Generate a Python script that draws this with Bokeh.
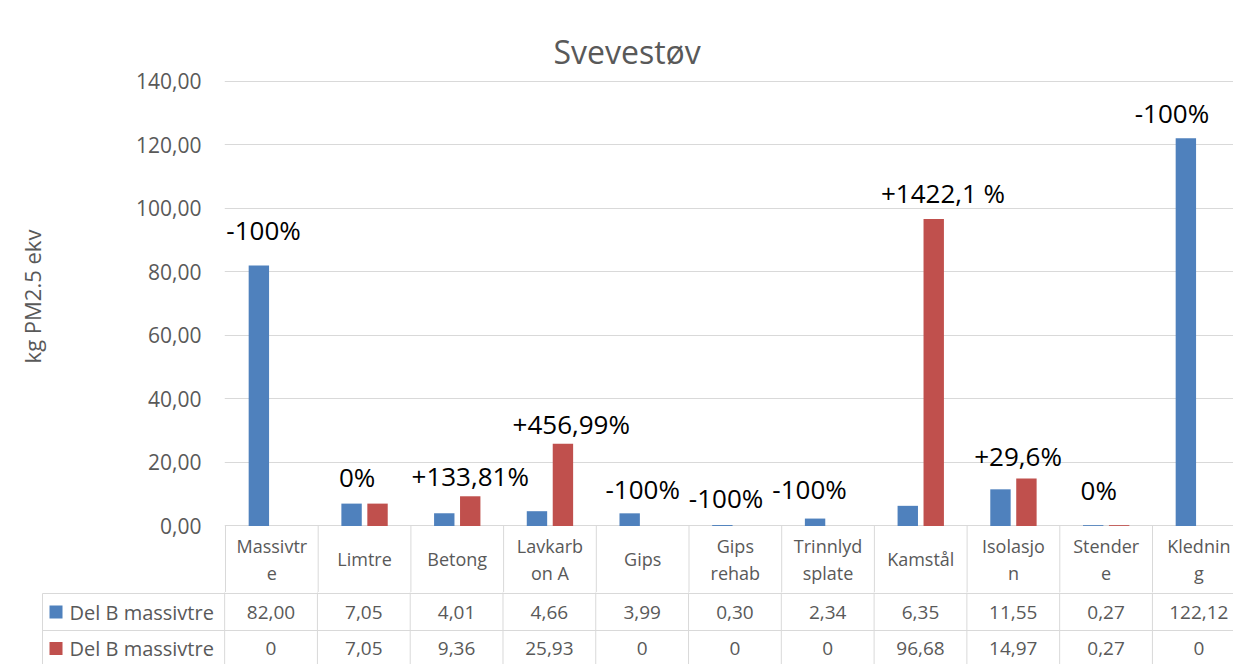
import numpy as np
from bokeh.plotting import figure
from bokeh.models import ColumnDataSource, Range1d, FixedTicker, CustomJSTickFormatter
from bokeh.transform import dodge
from bokeh.core.properties import value
from bokeh.embed import file_html
from bokeh.resources import INLINE

# ---------------- data ----------------
title = "Svevestøv"
y_label = "kg PM2.5 ekv"
categories = ["Massivtre", "Limtre", "Betong", "Lavkarbon A", "Gips", "Gips rehab",
              "Trinnlydsplate", "Kamstål", "Isolasjon", "Stendere", "Kledning"]
category_labels = ["Massivtr\ne", "Limtre", "Betong", "Lavkarb\non A", "Gips", "Gips\nrehab",
                   "Trinnlyd\nsplate", "Kamstål", "Isolasjo\nn", "Stender\ne", "Klednin\ng"]
series_names = ["Del B massivtre", "Del B massivtre"]
series_a = [82.00, 7.05, 4.01, 4.66, 3.99, 0.30, 2.34, 6.35, 11.55, 0.27, 122.12]
series_b = [0, 7.05, 9.36, 25.93, 0, 0, 0, 96.68, 14.97, 0.27, 0]
change_labels = ["-100%", "0%", "+133,81%", "+456,99%", "-100%", "-100%", "-100%",
                 "+1422,1 %", "+29,6%", "0%", "-100%"]
y_ticks = [0, 20, 40, 60, 80, 100, 120, 140]
y_tick_labels = ["0,00", "20,00", "40,00", "60,00", "80,00", "100,00", "120,00", "140,00"]

# -------- placement of the hand-placed change labels (layout) --------
label_y = [93.1, 15.3, 15.6, 32.0, 11.5, 8.7, 11.8, 105.0, 22.2, 11.2, 130.2]
label_dx = [-0.09, -0.08, 0.14, 0.23, 0.0, -0.1, -0.2, 0.24, 0.05, -0.08, -0.29]

# ---------------- style / layout ----------------
BLUE = "#4F81BD"
RED = "#C0504D"
colors = [BLUE, RED]
GRID = "#D9D9D9"
TXT = "#595959"
FONT = "Open Sans"

n = len(categories)
PXU = 92.7                        # pixels per category
PXV = 3.175                       # pixels per value unit
X_START = -1 / PXU                # chart frame starts 1px left of first category
X_END = X_START + 1009 / PXU      # chart frame ends at the window edge
X_LEFT = -183 / PXU               # table frame starts at the legend column
LEG_X = -182 / PXU
HEAD_PX = 66.5                    # height of category header row
Y_MIN = -HEAD_PX / PXV
Y_MAX = 140.3
HEAD_Y = -33.5 / PXV
LABEL_PAD = "\u00a0" * 14         # lifts the axis title to the middle of the value axis

def fmt(v):
    return "0" if v == 0 else f"{v:.2f}".replace(".", ",")

xc = np.arange(n) + 0.5
src = ColumnDataSource(dict(x=xc, a=series_a, b=series_b,
                            xl=xc + np.array(label_dx), yl=label_y, lab=change_labels))

# ---------------- chart (with category header row of the table) ----------------
p1 = figure(width=1224, height=581, x_range=Range1d(X_START, X_END), y_range=Range1d(Y_MIN, Y_MAX),
            output_backend="svg", toolbar_location=None, x_axis_type=None,
            min_border_left=215, min_border_right=0, min_border_top=69, min_border_bottom=0,
            title=title)
p1.margin = (11, 0, 0, 9)
p1.title.text_font = FONT
p1.title.text_font_size = "32px"
p1.title.text_font_style = "normal"
p1.title.text_color = TXT
p1.title.align = "left"
p1.title.offset = 329
p1.title.standoff = 15
p1.outline_line_color = None
p1.xgrid.visible = False
p1.ygrid.grid_line_color = GRID
p1.ygrid.grid_line_width = 1

ax = p1.yaxis[0]
ax.ticker = FixedTicker(ticks=y_ticks)
ax.formatter = CustomJSTickFormatter(args=dict(tick_vals=y_ticks, tick_labels=y_tick_labels), code="""
    const i = tick_vals.indexOf(Math.round(tick));
    return i >= 0 ? tick_labels[i] : tick.toFixed(2).replace('.', ',');
""")
ax.axis_line_color = None
ax.major_tick_line_color = None
ax.minor_tick_line_color = None
ax.major_label_text_font = FONT
ax.major_label_text_font_size = "21px"
ax.major_label_text_color = TXT
ax.major_label_standoff = 17
ax.axis_label = LABEL_PAD + y_label
ax.axis_label_text_font = FONT
ax.axis_label_text_font_size = "22px"
ax.axis_label_text_font_style = "normal"
ax.axis_label_text_color = TXT
ax.axis_label_standoff = 86

p1.vbar(x=dodge("x", -0.14), top="a", width=0.22, source=src, fill_color=colors[0], line_color=None)
p1.vbar(x=dodge("x", 0.14), top="b", width=0.22, source=src, fill_color=colors[1], line_color=None)
p1.text(x="xl", y="yl", text="lab", source=src, text_font=value(FONT), text_font_size="26px",
        text_align="center", text_baseline="middle", text_color="black")

# header row: column separators and category names
vx = list(range(n + 1))
p1.segment(x0=vx, y0=[0] * (n + 1), x1=vx, y1=[Y_MIN - 5] * (n + 1), line_color=GRID, line_width=1)
p1.text(x=xc, y=[HEAD_Y] * n, text=category_labels, text_font=value(FONT), text_font_size="18px",
        text_align="center", text_baseline="middle", text_color=TXT, text_line_height=1.15)

# ---------------- data rows of the table ----------------
ROW_H = 37
H_END = 71
p2 = figure(width=1224, height=72, x_range=Range1d(X_LEFT, X_END), y_range=Range1d(H_END, -1),
            output_backend="svg", toolbar_location=None, x_axis_type=None, y_axis_type=None,
            min_border_left=32, min_border_right=0, min_border_top=0, min_border_bottom=0)
p2.margin = (0, 0, 0, 9)
p2.outline_line_color = None

x0 = vx + [LEG_X, LEG_X, LEG_X]
x1 = vx + [LEG_X, X_END + 1, X_END + 1]
y0 = [-2] * (n + 1) + [0, 0, ROW_H]
y1 = [H_END + 5] * (n + 1) + [H_END + 5, 0, ROW_H]
p2.segment(x0=x0, y0=y0, x1=x1, y1=y1, line_color=GRID, line_width=1)

row_y = [ROW_H / 2, ROW_H + 18]
for vals, ry in zip([series_a, series_b], row_y):
    p2.text(x=xc, y=[ry] * n, text=[fmt(v) for v in vals], text_font=value(FONT),
            text_font_size="19px", text_align="center", text_baseline="middle", text_color=TXT)
p2.scatter(x=[LEG_X + 13.5 / PXU] * 2, y=row_y, marker="square", size=13, color=colors, line_color=None)
p2.text(x=[LEG_X + 27 / PXU] * 2, y=row_y, text=series_names, text_font=value(FONT),
        text_font_size="20px", text_align="left", text_baseline="middle", text_color=TXT)

open("out.html", "w").write(file_html([p1, p2], INLINE))
